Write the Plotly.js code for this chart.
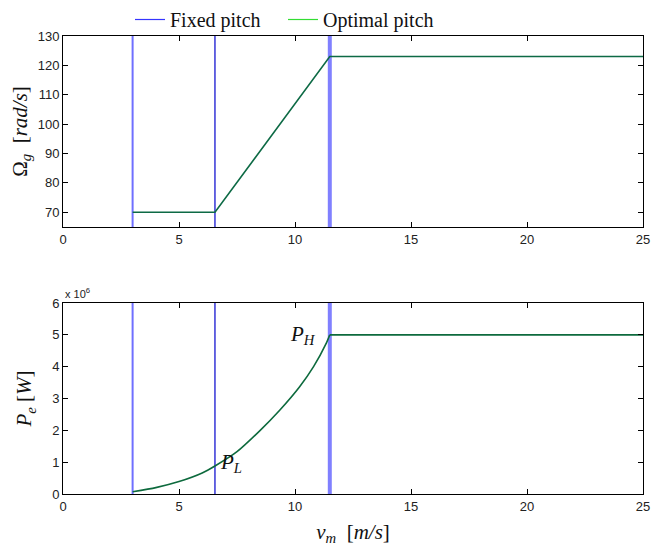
<!DOCTYPE html>
<html>
<head>
<meta charset="utf-8">
<script src="https://cdn.plot.ly/plotly-3.0.1.min.js"></script>
<style>html,body{margin:0;padding:0;background:#fff;}#chart{width:652px;height:550px;}</style>
</head>
<body>
<div id="chart"></div>
<script>
// wind speed marks (cut-in, P_L, rated)
const markSpeeds = [3, 6.55, 11.5];
const markColors = ['#6f6fff', '#0000cc', '#8080ff'];
const markWidths = [2, 1.2, 4];

// generator speed Omega_g [rad/s]
const omegaSpeed = [3, 6.55, 11.5, 25];
const omegaValues = [70, 70, 123, 123];

// electrical power P_e [x 10^6 W]
const powerSpeed = [3, 4, 5, 6, 6.55, 7.5, 8.5, 9.35, 10.2, 10.8, 11.35, 11.5, 25];
const powerValues = [0.07, 0.2, 0.39, 0.66, 0.88, 1.33, 2.0, 2.64, 3.37, 4.0, 4.74, 5.0, 5.0];

const seriesNames = ['Fixed pitch', 'Optimal pitch'];
const legendColors = ['#3535ff', '#33dd33'];

const omegaRange = [65, 130];
const powerRange = [0, 6];

const traces = [];
markSpeeds.forEach((v, i) => {
  traces.push({x: [v, v], y: omegaRange, xaxis: 'x', yaxis: 'y', mode: 'lines',
    line: {color: markColors[i], width: markWidths[i]}, showlegend: false, hoverinfo: 'skip'});
  traces.push({x: [v, v], y: powerRange, xaxis: 'x2', yaxis: 'y2', mode: 'lines',
    line: {color: markColors[i], width: markWidths[i]}, showlegend: false, hoverinfo: 'skip'});
});
traces.push({x: omegaSpeed, y: omegaValues, xaxis: 'x', yaxis: 'y', mode: 'lines',
  line: {color: '#0d6a45', width: 1.6}, showlegend: false});
// rising part (smooth) and rated part (flat)
const riseEnd = powerSpeed.indexOf(11.5);
traces.push({x: powerSpeed.slice(0, riseEnd + 1), y: powerValues.slice(0, riseEnd + 1), xaxis: 'x2', yaxis: 'y2', mode: 'lines',
  line: {color: '#0d6a3d', width: 1.6, shape: 'spline', smoothing: 0.6}, showlegend: false});
traces.push({x: powerSpeed.slice(riseEnd), y: powerValues.slice(riseEnd), xaxis: 'x2', yaxis: 'y2', mode: 'lines',
  line: {color: '#0d6a3d', width: 1.6}, showlegend: false});
seriesNames.forEach((n, i) => {
  traces.push({x: [null], y: [null], xaxis: 'x', yaxis: 'y', mode: 'lines', name: n,
    line: {color: legendColors[i], width: 1.2}, showlegend: true});
});

const tickFont = {family: 'Liberation Sans, Arial, sans-serif', size: 13, color: '#222'};
const titleFont = {family: 'Liberation Serif, DejaVu Serif, serif', size: 21, color: '#111'};

function xax(anchor) {
  return {anchor: anchor, range: [0, 25], dtick: 5, tick0: 0, ticks: 'inside', ticklen: 5,
    tickcolor: '#000', showline: true, linecolor: '#000', linewidth: 1, mirror: 'ticks',
    showgrid: false, zeroline: false, tickfont: tickFont};
}

const layout = {
  width: 652, height: 550,
  margin: {l: 63, r: 9, t: 36, b: 56, autoexpand: false},
  paper_bgcolor: '#fff', plot_bgcolor: '#fff',
  showlegend: true,
  legend: {orientation: 'h', x: 130 / 652, xanchor: 'left', y: 1.0, yanchor: 'top',
    yref: 'container', xref: 'container', font: {family: 'Liberation Serif, DejaVu Serif, serif', size: 20, color: '#111'},
    itemwidth: 30, entrywidth: 108, bgcolor: 'rgba(0,0,0,0)'},
  xaxis: Object.assign(xax('y'), {domain: [0, 1]}),
  yaxis: {domain: [0.583, 1], anchor: 'x', range: omegaRange, dtick: 10, tick0: 70, ticks: 'inside',
    ticklen: 5, tickcolor: '#000', showline: true, linecolor: '#000', linewidth: 1, mirror: 'ticks',
    showgrid: false, zeroline: false, tickfont: tickFont,
    title: {text: 'Ω<sub><i>g</i></sub>  [<i>rad/s</i>]', font: titleFont, standoff: 4}},
  xaxis2: Object.assign(xax('y2'), {domain: [0, 1],
    title: {text: '<i>v<sub>m</sub></i>  [<i>m/s</i>]', font: titleFont, standoff: 11}}),
  yaxis2: {domain: [0, 0.417], anchor: 'x2', range: powerRange, dtick: 1, tick0: 0, ticks: 'inside',
    ticklen: 5, tickcolor: '#000', showline: true, linecolor: '#000', linewidth: 1, mirror: 'ticks',
    showgrid: false, zeroline: false, tickfont: tickFont,
    title: {text: '<i>P<sub>e</sub></i> [<i>W</i>]', font: titleFont, standoff: 14}},
  annotations: [
    {xref: 'paper', yref: 'paper', x: 0, y: 0.417, xanchor: 'left', yanchor: 'bottom', yshift: 1,
      text: 'x 10<sup>6</sup>', showarrow: false, font: {family: 'Liberation Sans, Arial, sans-serif', size: 11, color: '#222'}},
    {xref: 'x2', yref: 'y2', x: markSpeeds[2], y: 5.0, xanchor: 'right', yanchor: 'middle', xshift: -12,
      text: '<i>P<sub>H</sub></i>', showarrow: false, font: titleFont},
    {xref: 'x2', yref: 'y2', x: markSpeeds[1], y: 0.97, xanchor: 'left', yanchor: 'middle', xshift: 3,
      text: '<i>P<sub>L</sub></i>', showarrow: false, font: titleFont}
  ]
};

Plotly.newPlot('chart', traces, layout, {displayModeBar: false, staticPlot: true});
</script>
</body>
</html>
